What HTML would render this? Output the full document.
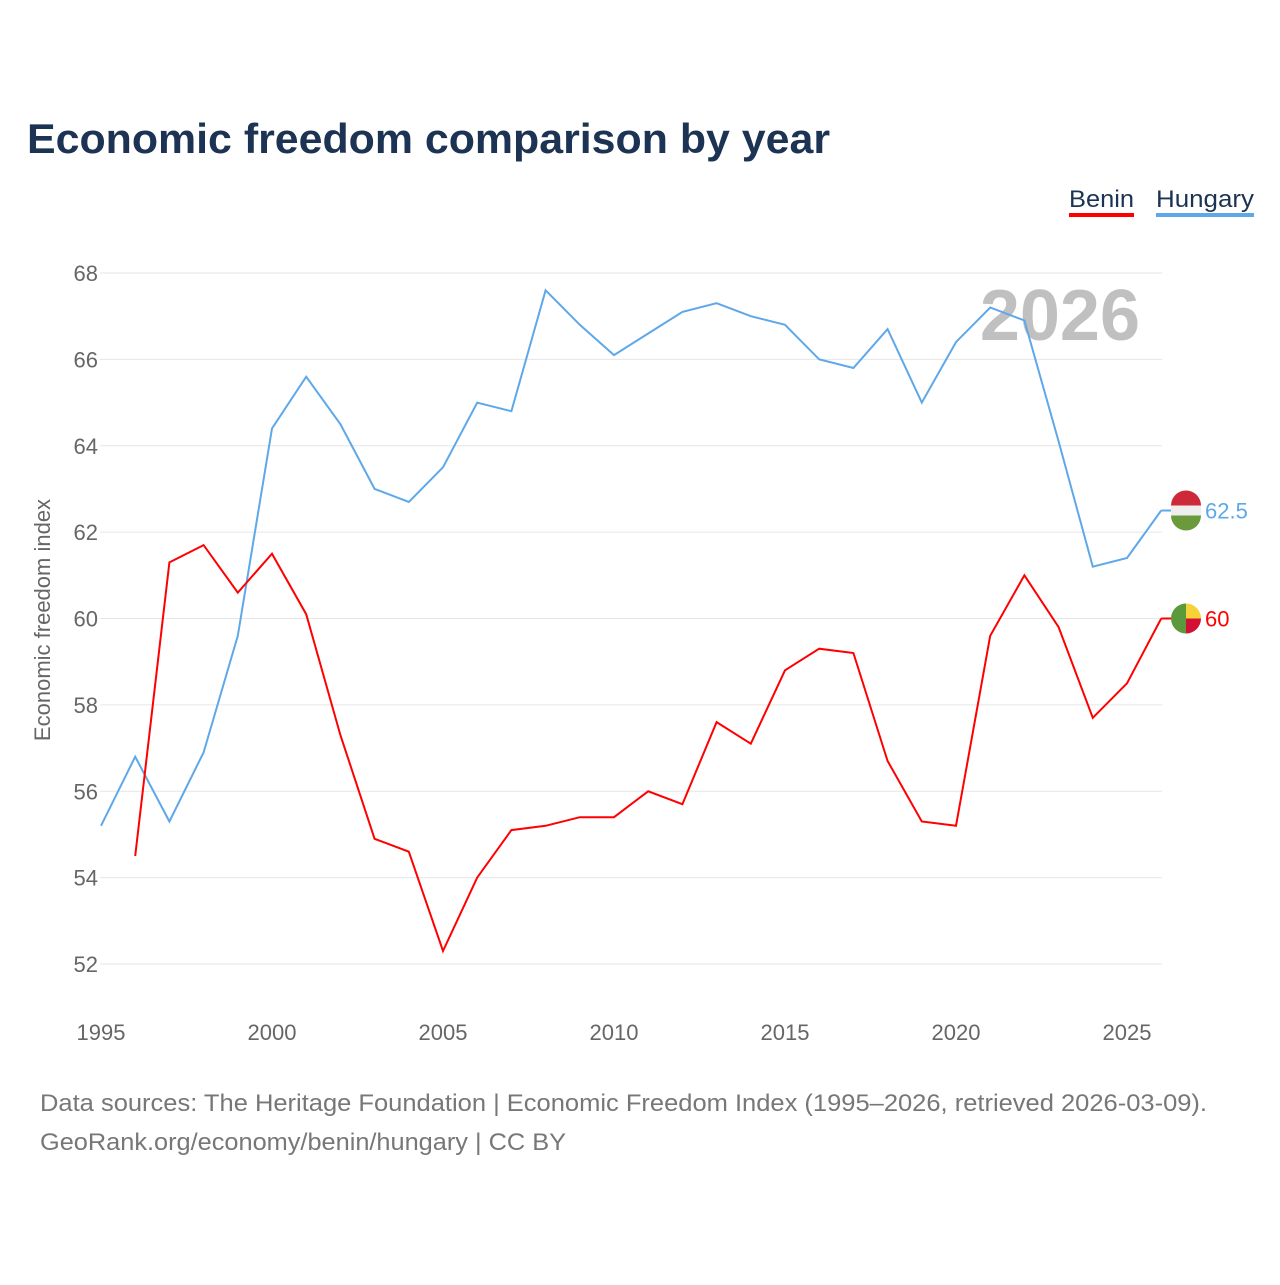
<!DOCTYPE html>
<html><head><meta charset="utf-8">
<style>
body{margin:0;background:#fff;width:1280px;height:1280px;overflow:hidden;font-family:"Liberation Sans",sans-serif}
</style></head>
<body>
<svg id="chart" width="1280" height="1280" xmlns="http://www.w3.org/2000/svg" font-family="Liberation Sans, sans-serif">
<text x="27" y="153" font-size="42" font-weight="bold" fill="#1c3353" textLength="803" lengthAdjust="spacingAndGlyphs">Economic freedom comparison by year</text>
<g>
<text x="1069" y="207" font-size="24" fill="#1c3353" textLength="65" lengthAdjust="spacingAndGlyphs">Benin</text>
<rect x="1069" y="213" width="65" height="4" fill="#ff0000"/>
<text x="1156" y="207" font-size="24" fill="#1c3353" textLength="98" lengthAdjust="spacingAndGlyphs">Hungary</text>
<rect x="1156" y="213" width="98" height="4" fill="#5ea8ea"/>
</g>
<text x="1140" y="340" font-size="72" font-weight="bold" fill="#c0c0c0" text-anchor="end">2026</text>
<g id="grid"></g>
<g id="series"></g>
<text transform="translate(50,620) rotate(-90)" font-size="22" fill="#666" text-anchor="middle">Economic freedom index</text>
<text x="40" y="1111" font-size="24" fill="#777" textLength="1167" lengthAdjust="spacingAndGlyphs">Data sources: The Heritage Foundation | Economic Freedom Index (1995–2026, retrieved 2026-03-09).</text>
<text x="40" y="1150" font-size="24" fill="#777" textLength="526" lengthAdjust="spacingAndGlyphs">GeoRank.org/economy/benin/hungary | CC BY</text>
</svg>
<script>
const years=[1995,1996,1997,1998,1999,2000,2001,2002,2003,2004,2005,2006,2007,2008,2009,2010,2011,2012,2013,2014,2015,2016,2017,2018,2019,2020,2021,2022,2023,2024,2025,2026];
const hungary=[55.2,56.8,55.3,56.9,59.6,64.4,65.6,64.5,63.0,62.7,63.5,65.0,64.8,67.6,66.8,66.1,66.6,67.1,67.3,67.0,66.8,66.0,65.8,66.7,65.0,66.4,67.2,66.9,64.1,61.2,61.4,62.5];
const benin=[null,54.5,61.3,61.7,60.6,61.5,60.1,57.3,54.9,54.6,52.3,54.0,55.1,55.2,55.4,55.4,56.0,55.7,57.6,57.1,58.8,59.3,59.2,56.7,55.3,55.2,59.6,61.0,59.8,57.7,58.5,60.0];
const yTicks=[52,54,56,58,60,62,64,66,68];
const xTicks=[1995,2000,2005,2010,2015,2020,2025];
const NS='http://www.w3.org/2000/svg';
const x=v=>101+(v-1995)*34.2;
const y=v=>964-(v-52)*(691/16);
const grid=document.getElementById('grid'),ser=document.getElementById('series');
function mk(tag,attrs,parent){const e=document.createElementNS(NS,tag);for(const k in attrs)e.setAttribute(k,attrs[k]);parent.appendChild(e);return e;}
yTicks.forEach(t=>{
 const l=mk('line',{x1:100,x2:1162,y1:y(t),y2:y(t),stroke:'#e6e6e6','stroke-width':1},grid);
 
 
 const tx=mk('text',{x:98,y:y(t)+8,'font-size':22,fill:'#666','text-anchor':'end'},grid);
 tx.textContent=t;
 
 
});
xTicks.forEach(t=>{
 const tx=mk('text',{x:x(t),y:1040,'font-size':22,fill:'#666','text-anchor':'middle'},grid);
 tx.textContent=t;
 
 
});
function line(vals,color,name){
 let d='';vals.forEach((v,i)=>{if(v==null)return;d+=(d?'L':'M')+x(years[i]).toFixed(1)+','+y(v).toFixed(1);});
 const p=mk('path',{d:d,fill:'none',stroke:color,'stroke-width':2},ser);
 
 
}
line(hungary,'#5ea8ea','hungary-line');
line(benin,'#ff0000','benin-line');
function endLabel(vals,color,name,flag){
 const v=vals[vals.length-1],cx=1186,cy=y(v);
 const g=mk('g',{},ser);
 
 
 mk('line',{x1:x(2026),x2:cx-14,y1:cy,y2:cy,stroke:color,'stroke-width':2},g);
 if(flag==='hu'){
  mk('path',{d:`M${cx-15},${cy-5}A15,15 0 0 1 ${cx+15},${cy-5}Z`,fill:'#ce2939'},g);
  mk('rect',{x:cx-15,y:cy-5,width:30,height:10,fill:'#eee'},g);
  mk('path',{d:`M${cx-15},${cy+5}A15,15 0 0 0 ${cx+15},${cy+5}Z`,fill:'#6a9a3c'},g);
 }else{
  mk('path',{d:`M${cx},${cy-15}A15,15 0 0 0 ${cx},${cy+15}Z`,fill:'#5b9a3c'},g);
  mk('path',{d:`M${cx},${cy-15}A15,15 0 0 1 ${cx+15},${cy}L${cx},${cy}Z`,fill:'#f5d238'},g);
  mk('path',{d:`M${cx},${cy+15}A15,15 0 0 0 ${cx+15},${cy}L${cx},${cy}Z`,fill:'#d21034'},g);
 }
 const t=mk('text',{x:1205,y:cy+8,'font-size':22,fill:color},g);
 t.textContent=v;
}
endLabel(hungary,'#5ea8ea','hungary','hu');
endLabel(benin,'#ff0000','benin','bj');
</script>
</body></html>
